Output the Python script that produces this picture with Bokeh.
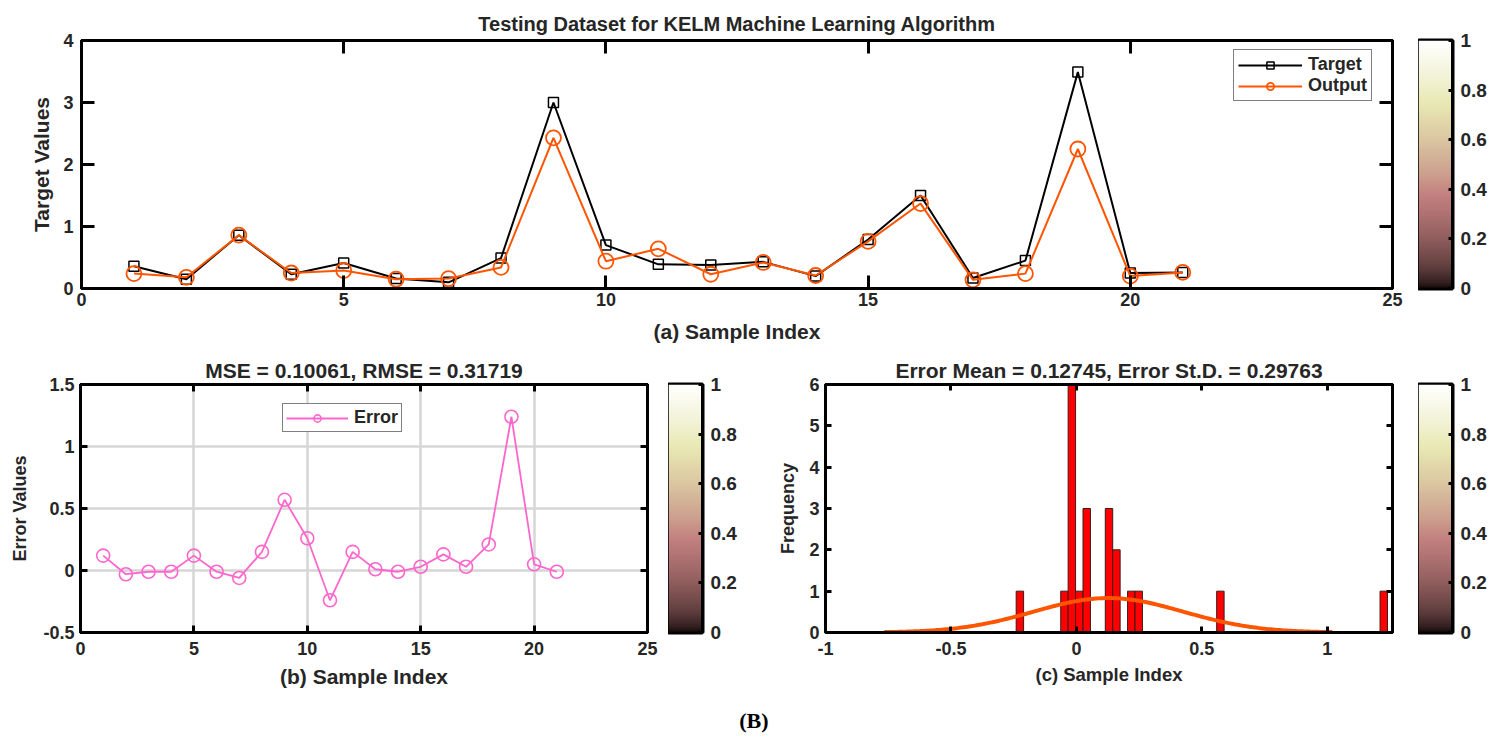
import numpy as np
from bokeh.plotting import figure
from bokeh.layouts import column, row
from bokeh.models import (LinearAxis, FixedTicker, LinearColorMapper, Legend, LegendItem,
                          Label, PrintfTickFormatter)
from bokeh.embed import file_html
from bokeh.resources import INLINE

# ---------------- data ----------------
sample_index = list(range(1, 22))
target = [0.36, 0.15, 0.86, 0.23, 0.41, 0.16, 0.10, 0.49, 3.00, 0.70, 0.39,
          0.38, 0.43, 0.20, 0.79, 1.50, 0.17, 0.45, 3.49, 0.25, 0.26]
output = [0.24, 0.18, 0.86, 0.25, 0.29, 0.15, 0.16, 0.34, 2.43, 0.44, 0.64,
          0.23, 0.42, 0.21, 0.76, 1.37, 0.14, 0.24, 2.25, 0.20, 0.26]
error = [0.12, -0.03, -0.01, -0.01, 0.12, -0.01, -0.06, 0.15, 0.57, 0.26, -0.24,
         0.15, 0.01, -0.01, 0.03, 0.13, 0.03, 0.21, 1.24, 0.05, -0.01]
mse_val = 0.10061
rmse_val = 0.31719
err_mean = 0.12745
err_std = 0.29763
n_bins = 50

top_xticks = [0, 5, 10, 15, 20, 25]
top_yticks = [0, 1, 2, 3, 4]
err_yticks = [-0.5, 0, 0.5, 1, 1.5]
hist_xticks = [-1, -0.5, 0, 0.5, 1]
hist_yticks = [0, 1, 2, 3, 4, 5, 6]
cbar_ticks = [0, 0.2, 0.4, 0.6, 0.8, 1]

FONT = "Liberation Sans"
ORANGE = "#FF5500"
PINK = "#FF66CC"
TXT = "#262626"

# MATLAB-like "pink" colormap
m = 256
nh = int(3 * m / 8)
gray = np.linspace(0, 1, m)
hr = np.concatenate([np.arange(1, nh + 1) / nh, np.ones(m - nh)])
hg = np.concatenate([np.zeros(nh), np.arange(1, nh + 1) / nh, np.ones(m - 2 * nh)])
hb = np.concatenate([np.zeros(2 * nh), np.arange(1, m - 2 * nh + 1) / (m - 2 * nh)])
pr = np.sqrt((2 * gray + hr) / 3)
pg = np.sqrt((2 * gray + hg) / 3)
pb = np.sqrt((2 * gray + hb) / 3)
pink_palette = ["#%02x%02x%02x" % (int(round(r * 255)), int(round(g * 255)), int(round(b * 255)))
                for r, g, b in zip(pr, pg, pb)]


def style_axes(p, xt, yt, tick_len, tick_font, fmt=False):
    xb = p.xaxis[0]
    yl = p.yaxis[0]
    xb.ticker = FixedTicker(ticks=xt)
    yl.ticker = FixedTicker(ticks=yt)
    for ax in [xb, yl]:
        ax.major_tick_in = tick_len
        ax.major_tick_out = 0
        ax.minor_tick_line_color = None
        ax.major_tick_line_width = 3
        ax.axis_line_width = 3
        ax.axis_line_color = "black"
        ax.major_label_text_font = FONT
        ax.major_label_text_font_style = "bold"
        ax.major_label_text_font_size = tick_font
        ax.major_label_text_color = TXT
        ax.major_label_standoff = 6
        ax.axis_label_text_font = FONT
        ax.axis_label_text_font_style = "bold"
        ax.axis_label_text_color = TXT
        ax.axis_label_standoff = 6
        if fmt:
            ax.formatter = PrintfTickFormatter(format="%g")
    top = LinearAxis(ticker=FixedTicker(ticks=xt), major_tick_in=tick_len, major_tick_out=0,
                     minor_tick_line_color=None, major_tick_line_width=3, axis_line_width=3,
                     major_label_text_color=None, major_label_text_font_size="1px",
                     major_label_standoff=0)
    right = LinearAxis(ticker=FixedTicker(ticks=yt), major_tick_in=tick_len, major_tick_out=0,
                       minor_tick_line_color=None, major_tick_line_width=3, axis_line_width=3,
                       major_label_text_color=None, major_label_text_font_size="1px",
                       major_label_standoff=0)
    p.add_layout(top, "above")
    p.add_layout(right, "right")
    p.outline_line_color = "black"
    p.outline_line_width = 3
    p.title.text_font = FONT
    p.title.text_font_style = "bold"
    p.title.text_color = TXT
    p.title.align = "center"
    return xb, yl


def make_cbar(frame_w, frame_h, top, bottom, right):
    cb = figure(frame_width=frame_w, frame_height=frame_h, x_range=(0, 1), y_range=(0, 1),
                toolbar_location=None, output_backend="svg", x_axis_location=None,
                y_axis_location="right", min_border_left=0, min_border_right=right,
                min_border_top=top, min_border_bottom=bottom)
    mapper = LinearColorMapper(palette=pink_palette, low=0, high=1)
    grad = np.linspace(0, 1, 256).reshape(256, 1)
    cb.image(image=[grad], x=0, y=0, dw=1, dh=1, color_mapper=mapper)
    cb.xgrid.visible = False
    cb.ygrid.visible = False
    cb.outline_line_color = "black"
    cb.outline_line_width = 4
    ax = cb.yaxis[0]
    ax.ticker = FixedTicker(ticks=cbar_ticks)
    ax.formatter = PrintfTickFormatter(format="%g")
    ax.major_tick_in = 4
    ax.major_tick_out = 0
    ax.major_tick_line_width = 3
    ax.minor_tick_line_color = None
    ax.axis_line_width = 3
    ax.major_label_text_font = FONT
    ax.major_label_text_font_style = "bold"
    ax.major_label_text_font_size = "19px"
    ax.major_label_text_color = TXT
    ax.major_label_standoff = 8
    return cb


def style_legend(leg, font_size, glyph_w, glyph_h, pad):
    leg.label_text_font = FONT
    leg.label_text_font_style = "bold"
    leg.label_text_font_size = font_size
    leg.label_text_color = TXT
    leg.glyph_width = glyph_w
    leg.glyph_height = glyph_h
    leg.label_height = glyph_h
    leg.spacing = 0
    leg.padding = pad
    leg.margin = 0
    leg.label_standoff = 6
    leg.border_line_color = "black"
    leg.border_line_width = 1.5
    leg.background_fill_alpha = 1


# ---------------- (a) top plot ----------------
p1 = figure(frame_width=1311, frame_height=248, x_range=(0, 25), y_range=(0, 4),
            toolbar_location=None, output_backend="svg",
            title="Testing Dataset for KELM Machine Learning Algorithm",
            min_border_left=81, min_border_right=26, min_border_top=40, min_border_bottom=60)
p1.xgrid.visible = False
p1.ygrid.visible = False
x1, y1 = style_axes(p1, top_xticks, top_yticks, 13, "18px")
p1.title.text_font_size = "20px"
p1.title.standoff = 12
x1.axis_label = "(a) Sample Index"
y1.axis_label = "Target Values"
x1.axis_label_text_font_size = "21px"
y1.axis_label_text_font_size = "21px"
x1.major_label_standoff = 4
x1.axis_label_standoff = 11
y1.major_label_standoff = 8
y1.axis_label_standoff = 7

t_line = p1.line(sample_index, target, line_color="black", line_width=2)
t_mark = p1.scatter(sample_index, target, marker="square", size=10, fill_color=None,
                    line_color="black", line_width=1.5)
o_line = p1.line(sample_index, output, line_color=ORANGE, line_width=2)
o_mark = p1.scatter(sample_index, output, marker="circle", size=15, fill_color=None,
                    line_color=ORANGE, line_width=1.8)
leg1 = Legend(items=[LegendItem(label="Target", renderers=[t_line, t_mark]),
                     LegendItem(label="Output", renderers=[o_line, o_mark])],
              location=(1152, 187))
style_legend(leg1, "18px", 64, 18, 4)
p1.add_layout(leg1, "center")

cb1 = make_cbar(34, 248, 40, 60, 40)

# ---------------- (b) error plot ----------------
p2 = figure(frame_width=567, frame_height=248, x_range=(0, 25), y_range=(-0.5, 1.5),
            toolbar_location=None, output_backend="svg",
            title="MSE = %.5f, RMSE = %.5f" % (mse_val, rmse_val),
            min_border_left=80, min_border_right=21, min_border_top=36, min_border_bottom=60)
x2, y2 = style_axes(p2, top_xticks, err_yticks, 7, "18px", fmt=True)
p2.title.text_font_size = "21px"
p2.title.standoff = 6
p2.xgrid.ticker = FixedTicker(ticks=top_xticks)
p2.ygrid.ticker = FixedTicker(ticks=err_yticks)
for g in [p2.xgrid[0], p2.ygrid[0]]:
    g.grid_line_color = "#d6d6d6"
    g.grid_line_width = 2.5
x2.axis_label = "(b) Sample Index"
x2.axis_label_text_font_size = "21px"
x2.major_label_standoff = 9
x2.axis_label_standoff = 7
y2.axis_label = "Error Values"
y2.axis_label_text_font_size = "18px"
y2.major_label_standoff = 6
y2.axis_label_standoff = 10

e_line = p2.line(sample_index, error, line_color=PINK, line_width=1.8)
e_mark = p2.scatter(sample_index, error, marker="circle", size=13, fill_color=None,
                    line_color=PINK, line_width=1.6)
leg2 = Legend(items=[LegendItem(label="Error", renderers=[e_line, e_mark])],
              location=(202, 200))
style_legend(leg2, "18px", 62, 18, 3)
p2.add_layout(leg2, "center")

cb2 = make_cbar(34, 248, 36, 60, 50)

# ---------------- (c) histogram ----------------
p3 = figure(frame_width=567, frame_height=248, x_range=(-1, 1.26), y_range=(0, 6),
            toolbar_location=None, output_backend="svg",
            title="Error Mean = %.5f, Error St.D. = %.5f" % (err_mean, err_std),
            min_border_left=73, min_border_right=26, min_border_top=36, min_border_bottom=60)
p3.xgrid.visible = False
p3.ygrid.visible = False
x3, y3 = style_axes(p3, hist_xticks, hist_yticks, 6, "18px", fmt=True)
p3.title.text_font_size = "21px"
p3.title.standoff = 6
x3.axis_label = "(c) Sample Index"
x3.axis_label_text_font_size = "18.5px"
x3.major_label_standoff = 9
x3.axis_label_standoff = 6
y3.axis_label = "Frequency"
y3.axis_label_text_font_size = "18px"
y3.major_label_standoff = 6
y3.axis_label_standoff = 8

counts, edges = np.histogram(np.array(error), bins=n_bins)
nz = counts > 0
p3.quad(left=edges[:-1][nz], right=edges[1:][nz], top=counts[nz], bottom=0,
        fill_color="#FF0000", line_color="#3a1a1a", line_width=1)

bw = edges[1] - edges[0]
xs = np.linspace(err_mean - 3 * err_std, err_mean + 3 * err_std, 200)
ys = len(error) * bw * np.exp(-0.5 * ((xs - err_mean) / err_std) ** 2) / (err_std * np.sqrt(2 * np.pi))
p3.line(xs, ys, line_color=ORANGE, line_width=4)

cb3 = make_cbar(34, 248, 36, 60, 40)

# ---------------- (B) caption ----------------
pB = figure(width=1492, height=45, x_range=(0, 1), y_range=(0, 1), toolbar_location=None,
            output_backend="svg", x_axis_location=None, y_axis_location=None,
            min_border=0)
pB.outline_line_color = None
pB.xgrid.visible = False
pB.ygrid.visible = False
pB.add_layout(Label(x=0.505, y=0.38, text="(B)", text_align="center", text_baseline="middle",
                    text_font="Liberation Serif", text_font_style="bold",
                    text_font_size="22px", text_color="black"))

layout = column(row(p1, cb1), row(p2, cb2, p3, cb3), pB)
open("out.html", "w").write(file_html(layout, INLINE))
